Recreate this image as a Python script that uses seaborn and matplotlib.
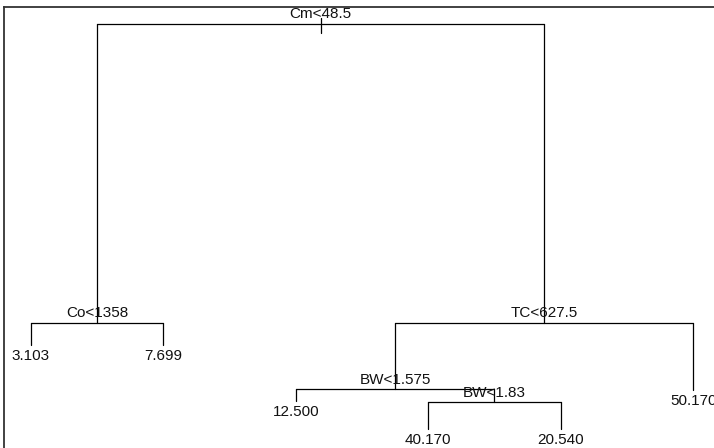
import numpy as np
import pandas as pd
import seaborn as sns
import matplotlib.pyplot as plt

# tree nodes (rpart numbering: children of n are 2n and 2n+1), listed in preorder
node_ids = [1, 2, 4, 5, 3, 6, 12, 13, 26, 27, 7]
node_labels = ["Cm<48.5", "Co<1358", "3.103", "7.699", "TC<627.5", "BW<1.575",
               "12.500", "BW<1.83", "40.170", "20.540", "50.170"]
# relative node heights (deviance scale)
node_heights = [1.0, 0.295, 0.243, 0.243, 0.295, 0.139, 0.111, 0.108, 0.045, 0.045, 0.137]

ids = set(node_ids)
height = dict(zip(node_ids, node_heights))
label = dict(zip(node_ids, node_labels))
leaves = [n for n in node_ids if 2 * n not in ids]

# x layout: leaves evenly spaced, internal nodes centered over their children
xpos = {n: i + 1 for i, n in enumerate(leaves)}
for n in sorted(ids, reverse=True):
    if n not in xpos:
        xpos[n] = (xpos[2 * n] + xpos[2 * n + 1]) / 2

rows = []
seg = 0
for n in node_ids:
    if n in leaves:
        continue
    l, r = 2 * n, 2 * n + 1
    h = height[n]
    for pts in ([(xpos[l], h), (xpos[r], h)],
                [(xpos[l], h), (xpos[l], height[l])],
                [(xpos[r], h), (xpos[r], height[r])]):
        for x, y in pts:
            rows.append({"seg": seg, "x": x, "y": y})
        seg += 1
# short stub through the root
for y in (height[1] + 0.014, height[1] - 0.021):
    rows.append({"seg": seg, "x": xpos[1], "y": y})
segments = pd.DataFrame(rows)

sns.set_theme(style="white")
plt.rcParams["font.family"] = ["Liberation Sans", "DejaVu Sans"]

W, H = 714, 448
fig = plt.figure(figsize=(W / 100, H / 100), dpi=100)
left_px, top_px = 3.5, 7
ax = fig.add_axes([left_px / W, 0, 1 - left_px / W + 0.01, (H - top_px) / H])

px_per_leaf = 132.4
first_leaf_px = 31
ax.set_xlim(1 - (first_leaf_px - left_px) / px_per_leaf,
            1 + (W + 7 - first_leaf_px) / px_per_leaf)
ax.set_ylim(0, (H - top_px) / 424)

sns.lineplot(data=segments, x="x", y="y", units="seg", estimator=None, sort=False,
             color="black", linewidth=0.9, ax=ax, legend=False)

for n in node_ids:
    if n in leaves:
        ax.text(xpos[n], height[n] - 0.009, label[n], ha="center", va="top",
                fontsize=11, color="#111111")
    else:
        ax.text(xpos[n], height[n] + 0.006, label[n], ha="center", va="bottom",
                fontsize=11, color="#111111")

ax.set_xticks([])
ax.set_yticks([])
ax.set_xlabel("")
ax.set_ylabel("")
for side in ["right", "bottom"]:
    ax.spines[side].set_visible(False)
for side in ["left", "top"]:
    ax.spines[side].set_color("#333333")
    ax.spines[side].set_linewidth(1.3)

fig.savefig("out.png", dpi=100)
